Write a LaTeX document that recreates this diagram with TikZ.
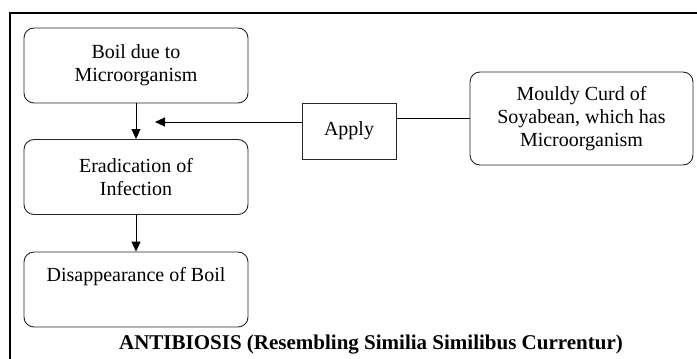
\documentclass[tikz,border=0pt]{standalone}
\usepackage{fontspec}
\setmainfont{Liberation Serif}
\usetikzlibrary{shapes,arrows.meta,positioning}

\begin{document}
\begin{tikzpicture}[x=1pt,y=-1pt,->,>={Triangle[length=10pt,width=9pt]},line width=0.9pt,
rbox/.style={draw=black!85, rounded corners=10pt, minimum width=224pt, minimum height=75pt,
align=center, inner sep=4pt, font=\fontsize{20}{23}\selectfont}]
        \useasboundingbox (0,0) rectangle (697,359);
        \draw [-, line width=2pt] (697,13) -- (9.5,13) -- (9.5,359);
        \node [rbox] (boil) at (136,65.5) {Boil due to\\Microorganism};
        \node [rbox] (erad) at (136,177) {Eradication of\\Infection};
        \node [rbox, text height=25pt, text depth=42pt] (gone) at (136,289.5) {Disappearance of Boil};
        \node [draw=black!85, minimum width=94pt, minimum height=56pt, font=\fontsize{20}{23}\selectfont] (apply) at (349,131) {Apply};
        \node [rbox, minimum width=223pt, minimum height=93pt] (curd) at (581.5,118.5) {Mouldy Curd of\\Soyabean, which has\\Microorganism};
        \coordinate (tip) at (155,122);
        \path (boil) edge (erad);
        \path (erad) edge (gone);
        \draw (apply.west |- tip) -- (tip);
        \draw [-] (apply.east |- curd.west) -- (curd.west);
        \node [font=\bfseries\fontsize{21}{24}\selectfont] (title) at (371,345) {ANTIBIOSIS (Resembling Similia Similibus Currentur)};
    \end{tikzpicture}
\end{document}
